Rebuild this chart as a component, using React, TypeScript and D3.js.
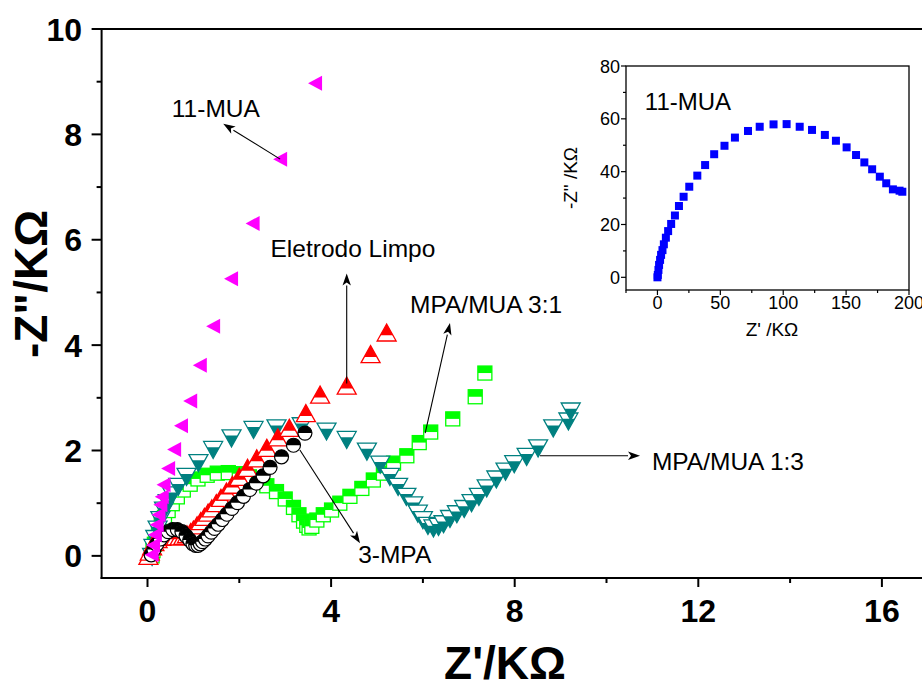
import React from "react";
import * as d3 from "d3";

const W = 922;
const H = 680;
const FONT = "'Liberation Sans', Arial, Helvetica, sans-serif";

type Pt = [number, number];

// Nyquist data: [Z' (kΩ), -Z'' (kΩ)]
const muaPts: Pt[] = [
  [0.09, 0.02], [0.12, 0.2], [0.16, 0.4], [0.2, 0.59], [0.24, 0.78], [0.28, 0.97],
  [0.31, 1.12], [0.35, 1.35], [0.45, 1.66], [0.58, 2.02], [0.73, 2.47], [0.93, 2.94],
  [1.14, 3.62], [1.43, 4.36], [1.82, 5.26], [2.29, 6.31], [2.89, 7.53], [3.65, 8.97],
];

const limpoPts: Pt[] = [
  [0.02, 0.0], [0.05, 0.08], [0.1, 0.18], [0.15, 0.26], [0.22, 0.32], [0.3, 0.36],
  [0.38, 0.38], [0.46, 0.39], [0.54, 0.38], [0.62, 0.37], [0.7, 0.37], [0.78, 0.38],
  [0.86, 0.41], [0.94, 0.45], [1.0, 0.5], [1.08, 0.58], [1.16, 0.66], [1.24, 0.74],
  [1.32, 0.82], [1.4, 0.9], [1.5, 1.0], [1.6, 1.1], [1.72, 1.22], [1.85, 1.35],
  [2.0, 1.5], [2.18, 1.67], [2.38, 1.85], [2.6, 2.05], [2.84, 2.25], [3.09, 2.43],
  [3.45, 2.71], [3.76, 3.06], [4.34, 3.23], [4.86, 3.83], [5.21, 4.24],
];

const mpaPts: Pt[] = [
  [0.08, 0.02], [0.14, 0.12], [0.2, 0.22], [0.28, 0.32], [0.36, 0.4], [0.45, 0.46],
  [0.55, 0.5], [0.65, 0.5], [0.75, 0.46], [0.84, 0.38], [0.92, 0.3], [0.99, 0.23],
  [1.05, 0.2], [1.1, 0.2], [1.15, 0.23], [1.2, 0.27], [1.26, 0.32], [1.32, 0.38],
  [1.39, 0.45], [1.46, 0.52], [1.54, 0.6], [1.63, 0.69], [1.73, 0.79], [1.84, 0.9],
  [1.96, 1.01], [2.09, 1.13], [2.23, 1.26], [2.37, 1.38], [2.52, 1.52], [2.67, 1.68],
  [2.92, 1.88], [3.18, 2.1], [3.43, 2.33],
];

const mix31Pts: Pt[] = [
  [0.1, 0.0], [0.12, 0.1], [0.15, 0.22], [0.19, 0.34], [0.24, 0.46], [0.3, 0.6],
  [0.37, 0.73], [0.45, 0.86], [0.54, 0.99], [0.65, 1.12], [0.78, 1.25], [0.93, 1.36],
  [1.1, 1.46], [1.3, 1.53], [1.52, 1.57], [1.76, 1.58], [2.0, 1.56], [2.22, 1.5],
  [2.42, 1.42], [2.6, 1.33], [2.81, 1.22], [3.0, 1.08], [3.18, 0.92], [3.3, 0.78],
  [3.4, 0.66], [3.47, 0.58], [3.52, 0.53], [3.58, 0.56], [3.69, 0.68], [3.83, 0.78],
  [4.01, 0.87], [4.19, 1.0], [4.41, 1.13], [4.67, 1.28], [4.92, 1.44], [5.14, 1.57],
  [5.36, 1.76], [5.65, 1.9], [5.92, 2.15], [6.17, 2.35], [6.65, 2.6], [7.14, 3.02],
  [7.35, 3.47],
];

const mix13Pts: Pt[] = [
  [0.1, -0.02], [0.13, 0.15], [0.17, 0.32], [0.22, 0.5], [0.28, 0.68], [0.36, 0.86],
  [0.44, 1.0], [0.53, 1.15], [0.67, 1.31], [0.85, 1.5], [1.11, 1.76], [1.43, 2.01],
  [1.83, 2.23], [2.31, 2.39], [2.81, 2.42], [3.36, 2.46], [3.9, 2.36], [4.34, 2.2],
  [4.78, 1.98], [5.07, 1.73], [5.28, 1.5], [5.46, 1.31], [5.64, 1.12], [5.79, 0.96],
  [5.89, 0.8], [6.0, 0.68], [6.11, 0.57], [6.23, 0.52], [6.34, 0.55], [6.45, 0.6],
  [6.59, 0.7], [6.74, 0.79], [6.9, 0.89], [7.06, 1.0], [7.22, 1.12], [7.39, 1.28],
  [7.6, 1.45], [7.8, 1.6], [7.99, 1.74], [8.26, 1.88], [8.51, 2.04], [8.84, 2.42],
  [9.17, 2.55], [9.22, 2.74],
];

// 11-MUA over the full frequency range (inset)
const insetPts: Pt[] = [
  [0, 0], [0.3, 0.9], [0.8, 2.8], [1.3, 4.7], [2.1, 6.6], [2.9, 8.5], [4.0, 10.3],
  [5.1, 12.5], [6.7, 15.0], [8.5, 17.5], [10.9, 20.2], [13.9, 23.4], [17.1, 27.0],
  [20.8, 30.5], [25.3, 34.3], [31.7, 38.5], [37.9, 42.5], [45.1, 46.6], [53.3, 49.8],
  [61.6, 52.9], [72.0, 55.4], [81.3, 57.0], [92.3, 57.9], [102.7, 58.0], [113.1, 57.0],
  [122.9, 55.8], [133.1, 53.9], [141.9, 51.7], [150.4, 49.2], [157.9, 46.3],
  [164.5, 43.5], [170.7, 40.9], [176.8, 38.1], [181.9, 35.6], [187.2, 33.3],
  [192.5, 32.8], [194.7, 32.4],
];

const mainXTicks = [0, 4, 8, 12, 16];
const mainXMinor = [2, 6, 10, 14];
const mainYTicks = [0, 2, 4, 6, 8, 10];
const mainYMinor = [1, 3, 5, 7, 9];
const insetXTicks = [0, 50, 100, 150, 200];
const insetXMinor = [-25, 25, 75, 125, 175];
const insetYTicks = [0, 20, 40, 60, 80];
const insetYMinor = [10, 30, 50, 70];

// Arrow annotations: label anchor and arrow from -> to (data units)
const notes = [
  { text: "11-MUA", at: [0.53, 8.33] as Pt, from: [2.89, 7.53] as Pt, to: [1.65, 8.2] as Pt },
  { text: "Eletrodo Limpo", at: [2.68, 5.67] as Pt, from: [4.34, 3.27] as Pt, to: [4.34, 5.36] as Pt },
  { text: "MPA/MUA 3:1", at: [5.72, 4.61] as Pt, from: [6.05, 2.33] as Pt, to: [6.59, 4.42] as Pt },
  { text: "3-MPA", at: [4.59, -0.13] as Pt, from: [3.32, 2.01] as Pt, to: [4.63, 0.24] as Pt },
  { text: "MPA/MUA 1:3", at: [10.99, 1.63] as Pt, from: [8.55, 1.9] as Pt, to: [10.73, 1.9] as Pt },
];

// Main plot scales
const x = d3.scaleLinear().domain([-1, 18]).range([101.6, 101.6 + 19 * 45.9]);
const y = d3.scaleLinear().domain([-0.42, 10]).range([578, 29]);
// Inset scales
const xi = d3.scaleLinear().domain([-25, 200]).range([626, 909]);
const yi = d3.scaleLinear().domain([-4.8, 80]).range([290, 66]);

const poly = (p: number[][]) => "M" + p.map((q) => q.join(",")).join("L") + "Z";

function UpTri({ cx, cy, color }: { cx: number; cy: number; color: string }) {
  const w = 19, h = 17;
  const outline = poly([[0, -h / 2], [-w / 2, h / 2], [w / 2, h / 2]]);
  const top = poly([[0, -h / 2], [-w / 3, h / 6], [w / 3, h / 6]]);
  return (
    <g transform={`translate(${cx},${cy})`}>
      <path d={outline} fill="#fff" />
      <path d={top} fill={color} />
      <path d={outline} fill="none" stroke={color} strokeWidth={1.3} />
    </g>
  );
}

function DownTri({ cx, cy, color }: { cx: number; cy: number; color: string }) {
  const w = 19, h = 17;
  const outline = poly([[-w / 2, -h / 2], [w / 2, -h / 2], [0, h / 2]]);
  const bottom = poly([[-w / 3, -h / 6], [w / 3, -h / 6], [0, h / 2]]);
  return (
    <g transform={`translate(${cx},${cy})`}>
      <path d={outline} fill="#fff" />
      <path d={bottom} fill={color} />
      <path d={outline} fill="none" stroke={color} strokeWidth={1.3} />
    </g>
  );
}

function HalfSquare({ cx, cy, color }: { cx: number; cy: number; color: string }) {
  const s = 14;
  return (
    <g transform={`translate(${cx},${cy})`}>
      <rect x={-s / 2} y={-s / 2} width={s} height={s} fill="#fff" />
      <rect x={-s / 2} y={-s / 2} width={s} height={s / 2} fill={color} />
      <rect x={-s / 2} y={-s / 2} width={s} height={s} fill="none" stroke={color} strokeWidth={1.3} />
    </g>
  );
}

function HalfCircle({ cx, cy, color }: { cx: number; cy: number; color: string }) {
  const r = 7;
  return (
    <g transform={`translate(${cx},${cy})`}>
      <circle r={r} fill="#fff" />
      <path d={`M${-r},0A${r},${r} 0 0 1 ${r},0Z`} fill={color} />
      <circle r={r} fill="none" stroke={color} strokeWidth={1.2} />
    </g>
  );
}

function LeftTri({ cx, cy, color }: { cx: number; cy: number; color: string }) {
  const w = 14, h = 15;
  return (
    <path
      transform={`translate(${cx},${cy})`}
      d={poly([[-w / 2, 0], [w / 2, -h / 2], [w / 2, h / 2]])}
      fill={color}
    />
  );
}

function Arrow({ from, to }: { from: Pt; to: Pt }) {
  const x1 = x(from[0]), y1 = y(from[1]);
  const x2 = x(to[0]), y2 = y(to[1]);
  const a = Math.atan2(y2 - y1, x2 - x1);
  const L = 12, hw = 4.2;
  const bx = x2 - L * Math.cos(a), by = y2 - L * Math.sin(a);
  const nx = -Math.sin(a) * hw, ny = Math.cos(a) * hw;
  return (
    <g>
      <line x1={x1} y1={y1} x2={bx} y2={by} stroke="#000" strokeWidth={1.1} />
      <path d={poly([[x2, y2], [bx + nx, by + ny], [bx + L * 0.25 * Math.cos(a), by + L * 0.25 * Math.sin(a)], [bx - nx, by - ny]])} fill="#000" />
    </g>
  );
}

export default function App() {
  const axisW = 2;
  return (
    <svg
      width={W}
      height={H}
      viewBox={`0 0 ${W} ${H}`}
      style={{ position: "absolute", left: 0, top: 0, background: "#fff", fontFamily: FONT }}
    >
      <rect width={W} height={H} fill="#fff" />

      {/* Main frame */}
      <line x1={x(-1)} x2={x(18)} y1={y(10)} y2={y(10)} stroke="#000" strokeWidth={axisW} />
      <line x1={x(-1)} x2={x(-1)} y1={y(10) - 1} y2={y(-0.42) + 1} stroke="#000" strokeWidth={axisW} />
      <line x1={x(-1) - 1} x2={x(18)} y1={y(-0.42)} y2={y(-0.42)} stroke="#000" strokeWidth={axisW} />

      {mainYTicks.map((t) => (
        <g key={"yt" + t}>
          <line x1={x(-1) - 10} x2={x(-1)} y1={y(t)} y2={y(t)} stroke="#000" strokeWidth={axisW} />
          <text x={82} y={y(t) + 11.5} textAnchor="end" fontSize={32} fontWeight="bold">{t}</text>
        </g>
      ))}
      {mainYMinor.map((t) => (
        <line key={"ym" + t} x1={x(-1) - 5} x2={x(-1)} y1={y(t)} y2={y(t)} stroke="#000" strokeWidth={axisW} />
      ))}
      {mainXTicks.map((t) => (
        <g key={"xt" + t}>
          <line x1={x(t)} x2={x(t)} y1={y(-0.42)} y2={y(-0.42) + 9} stroke="#000" strokeWidth={axisW} />
          <text x={x(t)} y={622} textAnchor="middle" fontSize={32} fontWeight="bold">{t}</text>
        </g>
      ))}
      {mainXMinor.map((t) => (
        <line key={"xm" + t} x1={x(t)} x2={x(t)} y1={y(-0.42)} y2={y(-0.42) + 5} stroke="#000" strokeWidth={axisW} />
      ))}

      <text x={505} y={679} textAnchor="middle" fontSize={46} fontWeight="bold">Z'/KΩ</text>
      <text
        transform="translate(47,284) rotate(-90)"
        textAnchor="middle"
        fontSize={46}
        fontWeight="bold"
      >-Z"/KΩ</text>

      {/* Series */}
      {mix31Pts.map((p, i) => <HalfSquare key={"g" + i} cx={x(p[0])} cy={y(p[1])} color="#00ff00" />)}
      {mix13Pts.map((p, i) => <DownTri key={"t" + i} cx={x(p[0])} cy={y(p[1])} color="#008080" />)}
      {limpoPts.map((p, i) => <UpTri key={"r" + i} cx={x(p[0])} cy={y(p[1])} color="#ff0000" />)}
      {mpaPts.map((p, i) => <HalfCircle key={"k" + i} cx={x(p[0])} cy={y(p[1])} color="#000000" />)}
      {muaPts.map((p, i) => <LeftTri key={"m" + i} cx={x(p[0])} cy={y(p[1])} color="#ff00ff" />)}

      {/* Annotations */}
      {notes.map((n) => (
        <g key={n.text}>
          <Arrow from={n.from} to={n.to} />
          <text x={x(n.at[0])} y={y(n.at[1])} fontSize={24.5}>{n.text}</text>
        </g>
      ))}

      {/* Inset */}
      <rect x={xi(-25)} y={yi(80)} width={xi(200) - xi(-25)} height={yi(-4.8) - yi(80)} fill="#fff" stroke="#000" strokeWidth={1.3} />
      {insetYTicks.map((t) => (
        <g key={"iyt" + t}>
          <line x1={xi(-25) - 5} x2={xi(-25)} y1={yi(t)} y2={yi(t)} stroke="#000" strokeWidth={1.2} />
          <text x={620} y={yi(t) + 6.5} textAnchor="end" fontSize={18}>{t}</text>
        </g>
      ))}
      {insetYMinor.map((t) => (
        <line key={"iym" + t} x1={xi(-25) - 3} x2={xi(-25)} y1={yi(t)} y2={yi(t)} stroke="#000" strokeWidth={1.2} />
      ))}
      {insetXTicks.map((t) => (
        <g key={"ixt" + t}>
          <line x1={xi(t)} x2={xi(t)} y1={yi(-4.8)} y2={yi(-4.8) + 5} stroke="#000" strokeWidth={1.2} />
          <text x={xi(t)} y={309} textAnchor="middle" fontSize={18}>{t}</text>
        </g>
      ))}
      {insetXMinor.map((t) => (
        <line key={"ixm" + t} x1={xi(t)} x2={xi(t)} y1={yi(-4.8)} y2={yi(-4.8) + 3} stroke="#000" strokeWidth={1.2} />
      ))}
      {insetPts.map((p, i) => (
        <rect key={"b" + i} x={xi(p[0]) - 4} y={yi(p[1]) - 4} width={8} height={8} fill="#0000ff" />
      ))}
      <text x={xi(-10)} y={yi(63.5)} fontSize={24}>11-MUA</text>
      <text x={772} y={336} textAnchor="middle" fontSize={19}>Z' /KΩ</text>
      <text transform="translate(577,178) rotate(-90)" textAnchor="middle" fontSize={19}>-Z" /KΩ</text>
    </svg>
  );
}
